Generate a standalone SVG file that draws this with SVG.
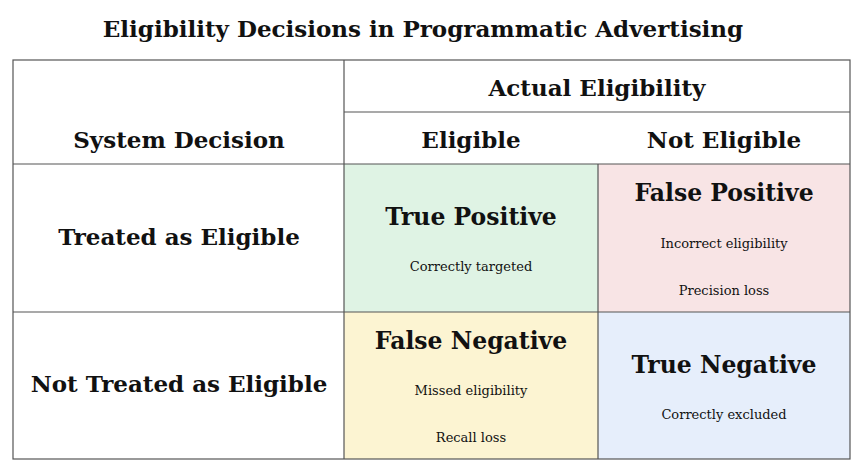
<svg xmlns="http://www.w3.org/2000/svg" width="866" height="476" viewBox="0 0 866 476">
<style>
.b{font-family:"DejaVu Serif",serif;font-weight:bold;text-anchor:middle;fill:#111}
.h{font-size:23px}
.c{font-size:23.5px}
.s{font-family:"DejaVu Serif",serif;font-size:13px;text-anchor:middle;fill:#111}
.g{stroke:#555;stroke-width:1.2;fill:none}
</style>
<rect width="866" height="476" fill="#fff"/>
<text class="b" x="423" y="37" style="font-size:23px">Eligibility Decisions in Programmatic Advertising</text>
<g id="tp"><rect x="344" y="164" width="254" height="148" fill="#dff3e4"/>
<text class="b c" x="471" y="225">True Positive</text><text class="s" x="471" y="271">Correctly targeted</text></g>
<g id="fp"><rect x="598" y="164" width="252" height="148" fill="#f8e4e5"/>
<text class="b c" x="724" y="201">False Positive</text><text class="s" x="724" y="248">Incorrect eligibility</text><text class="s" x="724" y="295">Precision loss</text></g>
<g id="fn"><rect x="344" y="312" width="254" height="147" fill="#fcf4d2"/>
<text class="b c" x="471" y="349">False Negative</text><text class="s" x="471" y="395">Missed eligibility</text><text class="s" x="471" y="442">Recall loss</text></g>
<g id="tn"><rect x="598" y="312" width="252" height="147" fill="#e6eefb"/>
<text class="b c" x="724" y="373">True Negative</text><text class="s" x="724" y="419">Correctly excluded</text></g>
<g id="headers">
<text class="b h" x="597" y="96">Actual Eligibility</text>
<text class="b h" x="471" y="148">Eligible</text>
<text class="b h" x="724" y="148">Not Eligible</text>
<text class="b h" x="179" y="148">System Decision</text>
<text class="b h" x="179" y="245">Treated as Eligible</text>
<text class="b h" x="179" y="392">Not Treated as Eligible</text>
</g>
<g id="connectors" class="g">
<rect x="13" y="60" width="837" height="399"/>
<line x1="344" y1="60" x2="344" y2="459"/>
<line x1="598" y1="164" x2="598" y2="459"/>
<line x1="344" y1="112" x2="850" y2="112"/>
<line x1="13" y1="164" x2="850" y2="164"/>
<line x1="13" y1="312" x2="850" y2="312"/>
</g>
</svg>
